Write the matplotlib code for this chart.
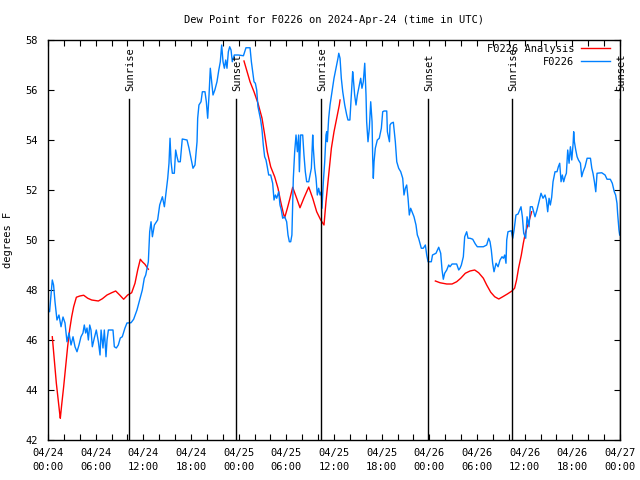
import numpy as np
import matplotlib
matplotlib.use("Agg")
import matplotlib.pyplot as plt
import matplotlib.transforms as mtransforms

# ---- data (hours since 2024-04-24 00:00 UTC) ----
obs_hours = [0.0, 0.2, 0.54, 0.7, 0.88, 1.13, 1.38, 1.64, 1.89, 2.14, 2.39, 2.64, 2.9, 3.15, 3.4, 3.65, 3.9,
             4.15, 4.4, 4.57, 4.74, 4.91, 5.08, 5.25, 5.41, 5.58, 5.83, 6.08, 6.34, 6.55, 6.68, 6.92, 7.09,
             7.3, 7.43, 7.6, 8.18, 8.35, 8.6, 8.85, 9.1, 9.35, 9.69, 9.94, 10.45, 10.78, 11.2, 11.54, 11.87,
             12.12, 12.3, 12.63, 12.8, 12.97, 13.14, 13.39, 13.8, 14.06, 14.4, 14.65, 14.9, 15.07, 15.23,
             15.36, 15.49, 15.65, 15.9, 16.07, 16.24, 16.4, 16.65, 16.9, 17.5, 17.75, 18.0, 18.25, 18.5,
             18.76, 18.84, 19.0, 19.26, 19.43, 19.76, 19.93, 20.1, 20.27, 20.43, 20.6, 20.77, 21.0, 21.27,
             21.5, 21.69, 21.86, 22.03, 22.2, 22.37, 22.53, 22.7, 22.87, 23.04, 23.2, 23.45, 23.95, 24.6,
             24.92, 25.43, 25.6, 25.77, 25.93, 26.1, 26.27, 26.43, 26.6, 26.77, 26.94, 27.1, 27.27, 27.44,
             27.6, 27.78, 28.03, 28.28, 28.45, 28.62, 28.79, 29.04, 29.2, 29.37, 29.54, 29.79, 30.04, 30.21,
             30.38, 30.55, 30.7, 30.88, 31.05, 31.22, 31.39, 31.55, 31.64, 31.8, 32.06, 32.22, 32.39, 32.56,
             32.82, 32.98, 33.15, 33.32, 33.4, 33.57, 33.74, 33.9, 34.07, 34.24, 34.4, 34.49, 34.66, 34.83,
             34.99, 35.08, 35.16, 35.33, 35.5, 35.75, 36.0, 36.25, 36.5, 36.6, 36.76, 36.92, 37.1, 37.35,
             37.6, 37.76, 38.0, 38.18, 38.35, 38.43, 38.6, 38.77, 38.94, 39.19, 39.36, 39.52, 39.69, 39.87,
             40.03, 40.11, 40.28, 40.45, 40.62, 40.79, 40.87, 40.95, 41.04, 41.2, 41.45, 41.7, 41.96, 42.13,
             42.3, 42.64, 42.72, 42.98, 43.05, 43.2, 43.47, 43.72, 43.9, 44.14, 44.4, 44.65, 44.81, 44.98,
             45.15, 45.32, 45.48, 45.65, 45.82, 46.07, 46.32, 46.49, 46.65, 46.82, 46.99, 47.24, 47.5, 47.67,
             47.84, 48.25, 48.4, 48.84, 49.18, 49.43, 49.6, 49.76, 49.93, 50.19, 50.44, 50.6, 50.86, 51.44,
             51.7, 51.86, 52.03, 52.28, 52.45, 52.7, 52.87, 53.12, 53.46, 53.79, 54.04, 54.8, 55.22, 55.47,
             55.64, 55.8, 55.97, 56.14, 56.4, 56.65, 56.9, 57.15, 57.32, 57.49, 57.65, 57.74, 57.9, 58.32,
             58.5, 58.67, 58.9, 59.17, 59.33, 59.54, 59.71, 59.88, 60.13, 60.3, 60.55, 60.71, 60.96, 61.13,
             61.3, 61.55, 61.8, 62.06, 62.31, 62.56, 62.73, 62.9, 63.07, 63.23, 63.4, 63.57, 63.82, 64.07,
             64.24, 64.41, 64.58, 64.74, 64.91, 65.08, 65.25, 65.42, 65.59, 65.76, 65.93, 66.1, 66.17, 66.26,
             66.43, 66.6, 66.77, 67.02, 67.18, 67.35, 67.6, 67.86, 68.28, 68.45, 68.6, 68.78, 68.95, 69.11,
             69.7, 70.12, 70.37, 70.78, 71.03, 71.28, 71.45, 71.62, 71.7, 71.87, 71.96]
obs_dewpt = [47.28, 47.13, 48.4, 48.2, 47.53, 46.8, 47.0, 46.53, 46.92, 46.68, 45.93, 46.28, 45.8, 46.13, 45.73,
             45.53, 45.8, 46.13, 46.28, 46.6, 46.28, 46.48, 46.0, 46.6, 46.4, 45.73, 46.08, 46.4, 45.93, 45.4,
             46.4, 45.68, 46.4, 45.33, 46.0, 46.4, 46.4, 45.73, 45.68, 45.8, 46.08, 46.13, 46.48, 46.68, 46.69,
             46.83, 47.2, 47.6, 48.0, 48.47, 48.6, 49.13, 50.33, 50.73, 50.13, 50.6, 50.8, 51.4, 51.73, 51.33,
             52.0, 52.47, 53.07, 54.07, 53.13, 52.67, 52.67, 53.6, 53.33, 53.13, 53.13, 54.04, 54.0, 53.67,
             53.27, 52.87, 53.0, 53.93, 54.87, 55.4, 55.53, 55.93, 55.93, 55.53, 54.87, 55.8, 56.87, 56.33,
             55.8, 56.0, 56.33, 56.8, 57.13, 57.8, 57.13, 56.87, 57.2, 56.87, 57.53, 57.73, 57.6, 57.13, 57.4,
             57.4, 57.37, 57.69, 57.69, 57.13, 56.73, 56.33, 56.27, 56.0, 55.33, 55.07, 54.8, 54.4, 53.8, 53.33,
             53.2, 52.93, 52.6, 52.6, 52.27, 51.6, 51.8, 51.67, 51.93, 51.4, 51.2, 50.87, 50.93, 50.73, 50.2,
             49.93, 49.93, 50.2, 52.47, 53.53, 54.2, 53.53, 54.2, 52.73, 54.2, 54.2, 53.4, 52.73, 52.33, 52.33,
             52.6, 52.87, 54.2, 53.67, 52.87, 52.47, 51.8, 52.07, 51.8, 51.93, 51.27, 52.33, 53.13, 54.2, 54.33,
             53.93, 54.87, 55.4, 55.93, 56.47, 56.87, 57.27, 57.47, 57.27, 56.47, 55.93, 55.4, 55.0, 54.8, 54.8,
             55.8, 56.73, 56.47, 55.8, 55.4, 55.8, 56.2, 56.47, 56.07, 56.33, 57.07, 55.8, 54.73, 53.93, 54.47,
             55.53, 54.73, 53.27, 52.47, 53.13, 53.67, 54.0, 54.07, 54.47, 55.13, 55.16, 55.16, 54.33, 53.93,
             54.6, 54.67, 54.71, 53.93, 53.13, 52.87, 52.73, 52.47, 51.8, 52.07, 52.2, 51.67, 51.0, 51.27,
             51.13, 50.93, 50.6, 50.2, 50.07, 49.87, 49.67, 49.67, 49.8, 49.4, 49.13, 49.13, 49.4, 49.47,
             49.71, 49.47, 48.8, 48.43, 48.67, 48.8, 49.0, 48.93, 49.04, 49.04, 48.8, 48.87, 49.0, 49.33,
             50.13, 50.33, 50.07, 50.07, 50.03, 49.84, 49.73, 49.73, 49.8, 50.07, 49.93, 49.6, 49.07, 48.73,
             49.07, 48.93, 49.2, 49.33, 49.27, 49.4, 49.07, 50.0, 50.33, 50.37, 50.07, 50.4, 51.0, 51.04,
             51.17, 51.33, 50.93, 50.27, 50.07, 50.93, 50.53, 51.33, 51.33, 51.13, 50.93, 51.2, 51.53, 51.87,
             51.67, 51.8, 51.6, 51.13, 51.67, 51.4, 51.71, 52.33, 52.73, 52.73, 52.93, 53.07, 52.33, 52.6,
             52.33, 52.53, 52.67, 53.6, 53.07, 53.73, 53.2, 53.87, 54.33, 53.93, 53.6, 53.33, 53.2, 53.07,
             52.53, 52.73, 52.93, 53.27, 53.27, 52.87, 52.67, 52.33, 51.93, 52.67, 52.69, 52.6, 52.43, 52.43,
             52.27, 51.93, 51.8, 51.47, 51.07, 50.4, 50.2]

ana_hours = [0.54, 1.05, 1.47, 1.55, 1.72, 1.97, 2.22, 2.47, 2.72, 2.98, 3.23, 3.57, 4.0, 4.49, 5.0, 5.5, 6.34,
             6.84, 7.43, 8.01, 8.52, 9.02, 9.52, 10.03, 10.53, 10.95, 11.29, 11.62, 11.87, 12.2, 12.63, 12.64,
             24.66, 24.67, 25.43, 25.93, 26.43, 26.94, 27.28, 27.6, 28.03, 28.53, 28.95, 29.29, 29.62, 29.79,
             30.13, 30.46, 30.8, 31.3, 31.72, 32.2, 32.82, 33.32, 33.82, 34.33, 34.74, 34.99, 35.33, 35.67,
             36.0, 36.34, 36.67, 36.76, 36.77,
             48.75, 48.76, 49.35, 50.19, 50.86, 51.44, 51.95, 52.53, 53.12, 53.71, 54.21, 54.8, 55.22, 55.73,
             56.23, 56.74, 57.24, 57.82, 58.4, 58.73, 58.98, 59.23, 59.58, 59.83, 60.08, 60.33, 60.59, 60.88]
ana_dewpt = [46.13, 44.27, 43.07, 42.87, 43.4, 44.13, 44.93, 45.73, 46.4, 46.93, 47.33, 47.71, 47.76, 47.79,
             47.67, 47.6, 47.56, 47.65, 47.8, 47.89, 47.96, 47.8, 47.63, 47.8, 47.89, 48.27, 48.8, 49.23, 49.13,
             49.03, 48.83, np.nan,
             np.nan, 57.16, 56.33, 55.93, 55.47, 54.87, 54.2, 53.53, 52.93, 52.53, 52.07, 51.53, 51.07, 50.89,
             51.27, 51.67, 52.11, 51.67, 51.29, 51.67, 52.12, 51.67, 51.13, 50.8, 50.6, 51.53, 52.6, 53.67,
             54.33, 54.87, 55.4, 55.6, np.nan,
             np.nan, 48.36, 48.29, 48.24, 48.24, 48.33, 48.47, 48.67, 48.76, 48.8, 48.69, 48.47, 48.2, 47.91,
             47.73, 47.64, 47.73, 47.84, 47.96, 48.07, 48.4, 48.87, 49.4, 49.87, 50.27, 50.53, 50.8, 51.13]

sun_hours = [10.22, 23.62, 34.42, 47.8, 58.45, 71.95]
sun_labels = ["Sunrise", "Sunset", "Sunrise", "Sunset", "Sunrise", "Sunset"]

xtick_hours = list(range(0, 73, 6))
xtick_labels = ["04/24\n00:00", "04/24\n06:00", "04/24\n12:00", "04/24\n18:00",
                "04/25\n00:00", "04/25\n06:00", "04/25\n12:00", "04/25\n18:00",
                "04/26\n00:00", "04/26\n06:00", "04/26\n12:00", "04/26\n18:00",
                "04/27\n00:00"]
ytick_vals = list(range(42, 59, 2))

FONT = "DejaVu Sans Mono"
FS = 7.5
plt.rcParams["font.family"] = FONT

fig = plt.figure(figsize=(6.4, 4.8), dpi=100)
ax = fig.add_axes([48 / 640, 40 / 480, 572 / 640, 400 / 480])

ax.plot(ana_hours, ana_dewpt, color="#ff0000", lw=1.0, label="F0226 Analysis")
ax.plot(obs_hours, obs_dewpt, color="#0080ff", lw=1.0, label="F0226")

ax.set_xlim(0, 72)
ax.set_ylim(42, 58)

trans = mtransforms.blended_transform_factory(ax.transData, ax.transAxes)
for h, lab in zip(sun_hours, sun_labels):
    ax.plot([h, h], [0, 0.853], color="black", lw=1.0, transform=trans)
    ax.text(h + 0.15, 0.872, lab, rotation=90, ha="center", va="bottom",
            transform=trans, fontsize=FS, clip_on=False)

ax.set_xticks(xtick_hours)
ax.set_xticklabels(xtick_labels, fontsize=FS, linespacing=1.5)
ax.set_xticks(np.arange(0, 73, 2), minor=True)
ax.set_yticks(ytick_vals)
ax.set_yticklabels([str(v) for v in ytick_vals], fontsize=FS)

ax.tick_params(axis="both", which="both", direction="in", top=True, right=True,
               length=4, width=0.8, color="black")
ax.tick_params(axis="x", which="major", pad=6)
ax.tick_params(axis="y", which="major", pad=7)
for s in ax.spines.values():
    s.set_linewidth(1.0)

ax.set_ylabel("degrees F", fontsize=FS, labelpad=9)
ax.set_title("Dew Point for F0226 on 2024-Apr-24 (time in UTC)", fontsize=FS, pad=12)

leg = ax.legend(loc="upper right", bbox_to_anchor=(0.9825, 0.99), frameon=False,
                markerfirst=False, fontsize=FS, handlelength=2.8, handletextpad=0.65,
                labelspacing=0.25, borderaxespad=0.0, borderpad=0.0)

fig.savefig("out.png", dpi=100)
